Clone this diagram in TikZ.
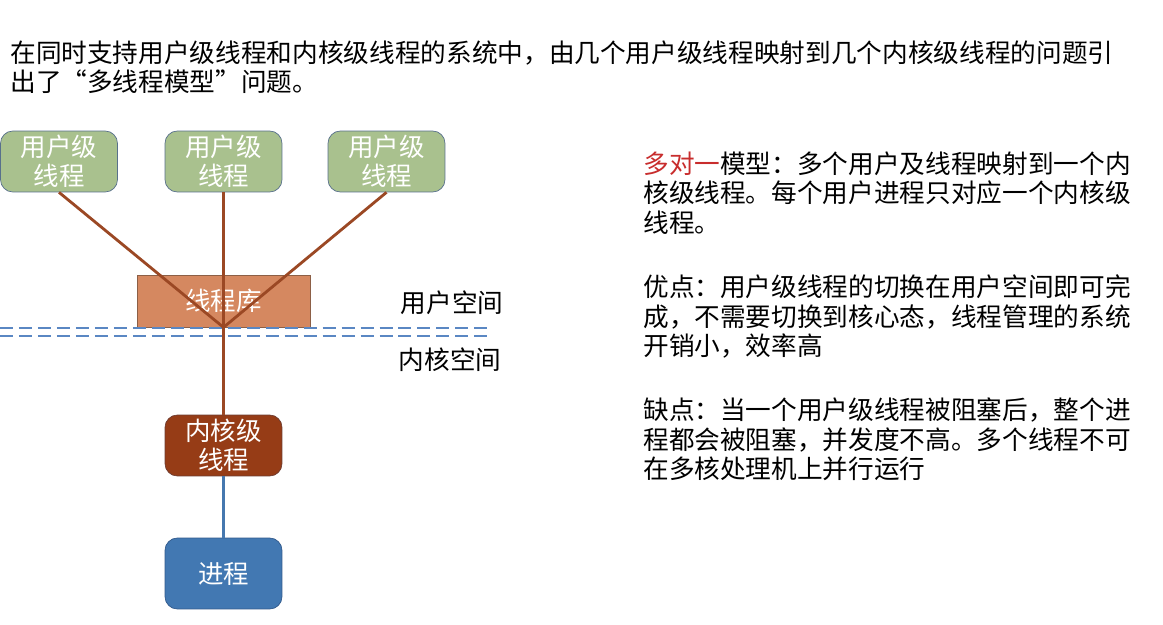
\documentclass[tikz,border=0pt]{standalone}
\usepackage{fontspec}
\setmainfont{Noto Sans CJK SC}
\usepackage{xcolor}
\usepackage{tikz}
\usetikzlibrary{positioning}
\definecolor{userfill}{RGB}{169,193,142}
\definecolor{userdraw}{RGB}{88,112,140}
\definecolor{libfill}{RGB}{213,136,96}
\definecolor{libdraw}{RGB}{140,95,70}
\definecolor{kernfill}{RGB}{150,60,22}
\definecolor{kerndraw}{RGB}{110,60,50}
\definecolor{procfill}{RGB}{66,120,178}
\definecolor{procdraw}{RGB}{50,90,140}
\definecolor{mapline}{RGB}{155,72,36}
\definecolor{bindline}{RGB}{70,120,175}
\definecolor{sepline}{RGB}{90,135,195}
\definecolor{hilite}{RGB}{200,45,45}
\tikzset{
    threadbox/.style={
        draw=userdraw,
        rounded corners=7pt,
        align=center,
        text=white,
        inner sep=0pt,
        minimum width=2.34cm,
        minimum height=1.22cm,
        font=\fontsize{14.5pt}{16.5pt}\selectfont
    },
    userbox/.style={
        threadbox,
        fill=userfill
    },
    libbox/.style={
        threadbox,
        rounded corners=0pt,
        draw=libdraw,
        fill=libfill,
        minimum width=3.46cm,
        minimum height=1.04cm
    },
    kernbox/.style={
        threadbox,
        draw=kerndraw,
        fill=kernfill
    },
    procbox/.style={
        threadbox,
        draw=procdraw,
        fill=procfill,
        minimum height=1.42cm
    },
    mapping/.style={
        draw=mapline,
        line width=1.6pt
    },
    binding/.style={
        draw=bindline,
        line width=1.6pt
    },
    spacesep/.style={
        draw=sepline,
        line width=1pt,
        dash pattern=on 7.4pt off 3.4pt
    },
    plaintext/.style={
        inner sep=0pt,
        align=left,
        font=\fontsize{14.6pt}{16.8pt}\selectfont
    }
}
\begin{document}
\begin{tikzpicture}[x=0.02cm, y=-0.02cm]
    \useasboundingbox[fill=white] (0,0) rectangle (1163,625);

    % heading
    \node[plaintext, anchor=north west,
        font=\fontsize{14.6pt}{17pt}\selectfont] (intro) at (10,40)
        {在同时支持用户级线程和内核级线程的系统中，由几个用户级线程映射到几个内核级线程的问题引\\
        出了“多线程模型”问题。};

    % thread boxes
    \node[userbox] (user1) at (59,161.5) {用户级\\线程};
    \node[userbox] (user2) at (223.5,161.5) {用户级\\线程};
    \node[userbox] (user3) at (386.5,161.5) {用户级\\线程};
    \node[libbox] (lib) at (223.5,301) {线程库};
    \node[kernbox] (kern) at (223.5,445.5) {内核级\\线程};
    \node[procbox] (proc) at (223.5,573.5) {进程};

    % user / kernel space boundary
    \coordinate (sepleft) at (0,328);
    \coordinate (sepright) at (487,328);
    \draw[spacesep] (sepleft) -- (sepright);
    \draw[spacesep] ([yshift=-4.5pt]sepleft) -- ([yshift=-4.5pt]sepright);
    \node[plaintext] (userspace) at (452,303) {用户空间};
    \node[plaintext] (kernspace) at (450,360) {内核空间};

    % many-to-one mapping
    \draw[mapping] (user1.south) -- (lib.south);
    \draw[mapping] (user3.south) -- (lib.south);
    \draw[mapping] (user2.south) -- (kern.north);
    \draw[binding] (kern.south) -- (proc.north);

    % notes
    \node[plaintext, anchor=north west] (notes) at (643,151)
        {\textcolor{hilite}{多对一}模型：多个用户及线程映射到一个内\\
        核级线程。每个用户进程只对应一个内核级\\
        线程。\\[20pt]
        优点：用户级线程的切换在用户空间即可完\\
        成，不需要切换到核心态，线程管理的系统\\
        开销小，效率高\\[19.5pt]
        缺点：当一个用户级线程被阻塞后，整个进\\
        程都会被阻塞，并发度不高。多个线程不可\\
        在多核处理机上并行运行};
\end{tikzpicture}
\end{document}
